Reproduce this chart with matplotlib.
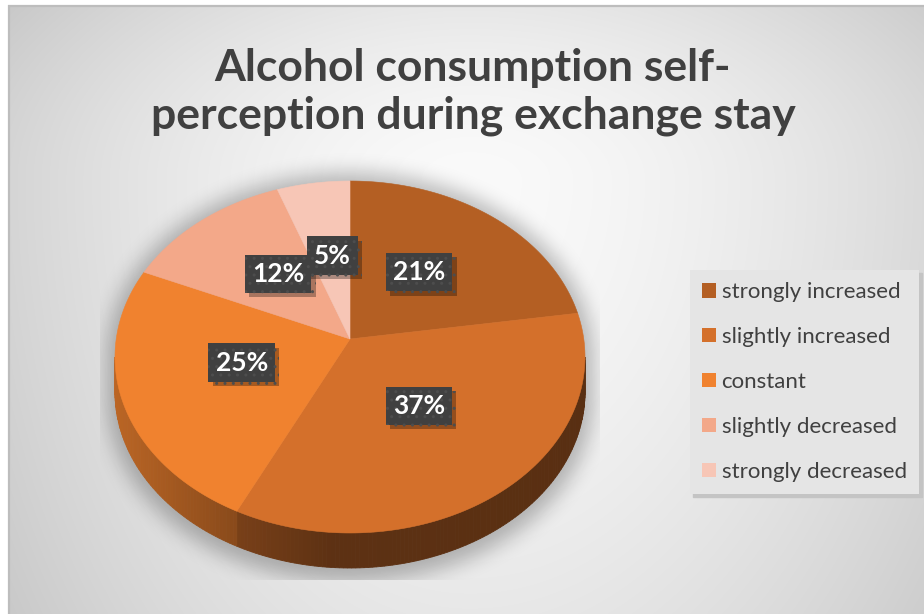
import numpy as np
import matplotlib
matplotlib.use("Agg")
import matplotlib.pyplot as plt
from matplotlib.patches import Polygon, Patch
import matplotlib.patheffects as pe

# ---- data -------------------------------------------------------------
categories = ["strongly increased", "slightly increased", "constant",
              "slightly decreased", "strongly decreased"]
shares = [21, 37, 25, 12, 5]
colors = ["#B45F23", "#D4702B", "#F0822F", "#F3A889", "#F7C6B6"]
title = "Alcohol consumption self-\nperception during exchange stay"

# ---- canvas -----------------------------------------------------------
W, H = 924, 614
plt.rcParams['font.family'] = ['Lato', 'DejaVu Sans']
plt.rcParams['hatch.linewidth'] = 1.0

fig = plt.figure(figsize=(W / 100, H / 100), dpi=100, facecolor='white')
ax = fig.add_axes([0, 0, 1, 1])
ax.set_xlim(0, W)
ax.set_ylim(H, 0)
ax.axis('off')

# chart-area background: soft radial gradient
FX0, FY0 = 8, 5
yy, xx = np.mgrid[0:H, 0:W] + 0.5
gx, gy = 470.0, 180.0
rx = np.where(xx < gx, 520.0, 560.0)
ry = np.where(yy < gy, 300.0, 760.0)
d = np.sqrt(((xx - gx) / rx) ** 2 + ((yy - gy) / ry) ** 2)
g = np.clip(250 - 45 * d ** 1.6, 190, 252) / 255.0
bg = np.dstack([g, g, g])
bg[yy < FY0] = 1.0
bg[xx < FX0] = 1.0
ax.imshow(bg, extent=(0, W, H, 0), zorder=0, interpolation='bilinear')
ax.plot([FX0, W], [FY0 + 0.5, FY0 + 0.5], color='#bdbdbd', lw=1.6, zorder=1,
        solid_capstyle='butt')
ax.plot([FX0 + 0.5, FX0 + 0.5], [FY0, H], color='#bdbdbd', lw=1.6, zorder=1,
        solid_capstyle='butt')

# ---- 3-D pie geometry ---------------------------------------------------
CX, CY, A, B = 350.0, 357.0, 235.0, 176.0   # top ellipse
VY = 339.0                                  # apex of the slices
DEPTH = 35.0


def rim(theta):
    t = np.radians(theta)
    return CX + A * np.sin(t), CY - B * np.cos(t)


def side_shade(x):
    return np.interp(x, [115, 230, 330, 585], [0.78, 0.58, 0.44, 0.42])


# soft drop shadow under the pie, clipped to the plot area
u = np.clip((xx - CX) / (A + 8), -1, 1)
half = (B + 8) * np.sqrt(1 - u ** 2)
mask = ((np.abs(xx - CX) <= A + 8) & (yy >= CY - half) &
        (yy <= CY + DEPTH + 6 + half)).astype(float)


def box_blur(img, r, axis):
    c = np.cumsum(np.pad(img, [(r + 1, r) if a == axis else (0, 0) for a in range(2)],
                         mode='edge'), axis=axis)
    if axis == 0:
        return (c[2 * r + 1:] - c[:-2 * r - 1]) / (2 * r + 1)
    return (c[:, 2 * r + 1:] - c[:, :-2 * r - 1]) / (2 * r + 1)


sh = mask
for _ in range(3):
    sh = box_blur(sh, 9, 0)
    sh = box_blur(sh, 9, 1)
clip = (xx >= 100) & (xx <= 600) & (yy <= 580)
alpha = np.where(clip, 0.26 * sh, 0.0)
shadow = np.zeros((H, W, 4))
shadow[..., 3] = alpha
ax.imshow(shadow, extent=(0, W, H, 0), zorder=2, interpolation='bilinear')

total = float(sum(shares))
bounds = np.concatenate([[0], np.cumsum(shares)]) / total * 360.0

# side wall (front half of the ellipse only)
for i, base in enumerate(colors):
    a0, a1 = max(bounds[i], 90.0), min(bounds[i + 1], 270.0)
    if a1 <= a0:
        continue
    steps = np.linspace(a0, a1, max(int(a1 - a0), 2) + 1)
    rgb = np.array(matplotlib.colors.to_rgb(base))
    for s0, s1 in zip(steps[:-1], steps[1:]):
        x0, y0 = rim(s0)
        x1, y1 = rim(s1)
        c = np.clip(rgb * side_shade(0.5 * (x0 + x1)), 0, 1)
        ax.add_patch(Polygon([(x0, y0), (x1, y1), (x1, y1 + DEPTH), (x0, y0 + DEPTH)],
                             closed=True, fc=c, ec=c, lw=0.6, zorder=3))

# top face
for i, base in enumerate(colors):
    th = np.linspace(bounds[i], bounds[i + 1], 120)
    rx_, ry_ = rim(th)
    pts = np.column_stack([np.r_[CX, rx_], np.r_[VY, ry_]])
    ax.add_patch(Polygon(pts, closed=True, fc=base, ec=base, lw=0.4, zorder=4))

# ---- data labels ---------------------------------------------------------
box_fx = [pe.SimplePatchShadow(offset=(3, -3), shadow_rgbFace='black', alpha=0.3),
          pe.Normal()]
for i, v in enumerate(shares):
    mid = np.radians(0.5 * (bounds[i] + bounds[i + 1]))
    lx = CX + 0.48 * A * np.sin(mid)
    ly = VY - 0.48 * B * np.cos(mid)
    t = ax.text(lx, ly, f"{v}%", ha='center', va='center', fontsize=19,
                fontweight='bold', color='white', zorder=11 + i,
                bbox=dict(boxstyle='square,pad=0.27', fc='#404040', ec='#4d4d4d',
                          lw=0, hatch='..'))
    t.get_bbox_patch().set_path_effects(box_fx)

# ---- title ---------------------------------------------------------------
ax.text(473, 92, title, ha='center', va='center', fontsize=32,
        fontweight='bold', color='#404040', linespacing=1.2, zorder=5)

# ---- legend --------------------------------------------------------------
handles = [Patch(facecolor=c, edgecolor='none') for c in colors]
leg = ax.legend(handles, categories, loc='upper left',
                bbox_to_anchor=(690 / W, 1 - 270 / H), bbox_transform=fig.transFigure,
                borderaxespad=0, fontsize=16, labelspacing=1.12, handlelength=0.62,
                handleheight=0.62, handletextpad=0.25, borderpad=0.55,
                frameon=True, fancybox=False, facecolor='#e5e5e5', edgecolor='none',
                framealpha=1.0, shadow={'color': '#c4c4c4', 'alpha': 1.0})
for t in leg.get_texts():
    t.set_color('#404040')
leg.set_zorder(20)

fig.savefig("out.png", dpi=100, facecolor='white')
